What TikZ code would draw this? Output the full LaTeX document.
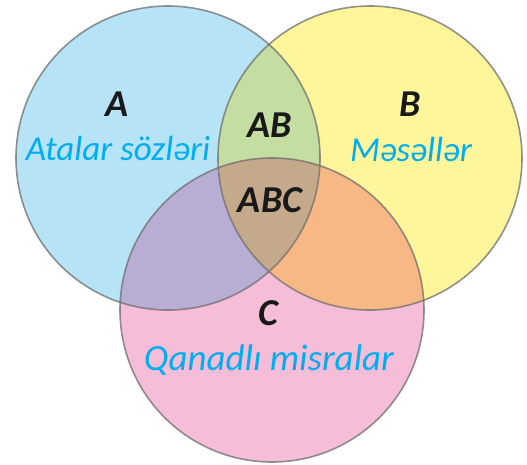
\documentclass[tikz,border=0pt]{standalone}
\usepackage{fontspec}
\setmainfont{Carlito}
\definecolor{cA}{HTML}{B7E3F7}
\definecolor{cB}{HTML}{FFF59B}
\definecolor{cC}{HTML}{F6BDD8}
\definecolor{cAB}{HTML}{C4DDA1}
\definecolor{cAC}{HTML}{B8ADD3}
\definecolor{cBC}{HTML}{F8B886}
\definecolor{cABC}{HTML}{C4A98A}
\definecolor{txtcyan}{HTML}{00AEEF}
\definecolor{edge}{HTML}{6E6E6E}
\tikzset{
  setlabel/.style={font=\fontsize{38}{38}\selectfont\bfseries\itshape, text=black!90, inner sep=0pt},
  setname/.style={font=\fontsize{35}{35}\selectfont\itshape, text=txtcyan, inner sep=0pt},
  rim/.style={draw=edge, draw opacity=0.75, line width=1.6pt}
}
\begin{document}
\begin{tikzpicture}[x=1pt,y=-1pt]
\useasboundingbox (0,0) rectangle (527,464);
\def\circA{(168,158) circle[radius=152]}
\def\circB{(370,158) circle[radius=152]}
\def\circC{(272,310) circle[radius=152]}
\fill[cA] \circA;
\fill[cB] \circB;
\fill[cC] \circC;
\begin{scope}\clip \circA; \fill[cAB] \circB; \end{scope}
\begin{scope}\clip \circA; \fill[cAC] \circC; \end{scope}
\begin{scope}\clip \circB; \fill[cBC] \circC; \end{scope}
\begin{scope}\clip \circA; \clip \circB; \fill[cABC] \circC; \end{scope}
\draw[rim] \circA;
\draw[rim] \circB;
\draw[rim] \circC;
\node[setlabel] (la) at (117,104) {A};
\node[setname, anchor=base] (na) at (118,160) {Atalar sözləri};
\node[setlabel] (lb) at (410,104) {B};
\node[setname, anchor=base] (nb) at (411,161) {Məsəllər};
\node[setlabel] (lab) at (270,125) {AB};
\node[setlabel] (labc) at (270,200) {ABC};
\node[setlabel] (lc) at (268,313) {C};
\node[setname, anchor=base, font=\fontsize{37}{37}\selectfont\itshape] (nc) at (269,370) {Qanadlı misralar};
\end{tikzpicture}
\end{document}
